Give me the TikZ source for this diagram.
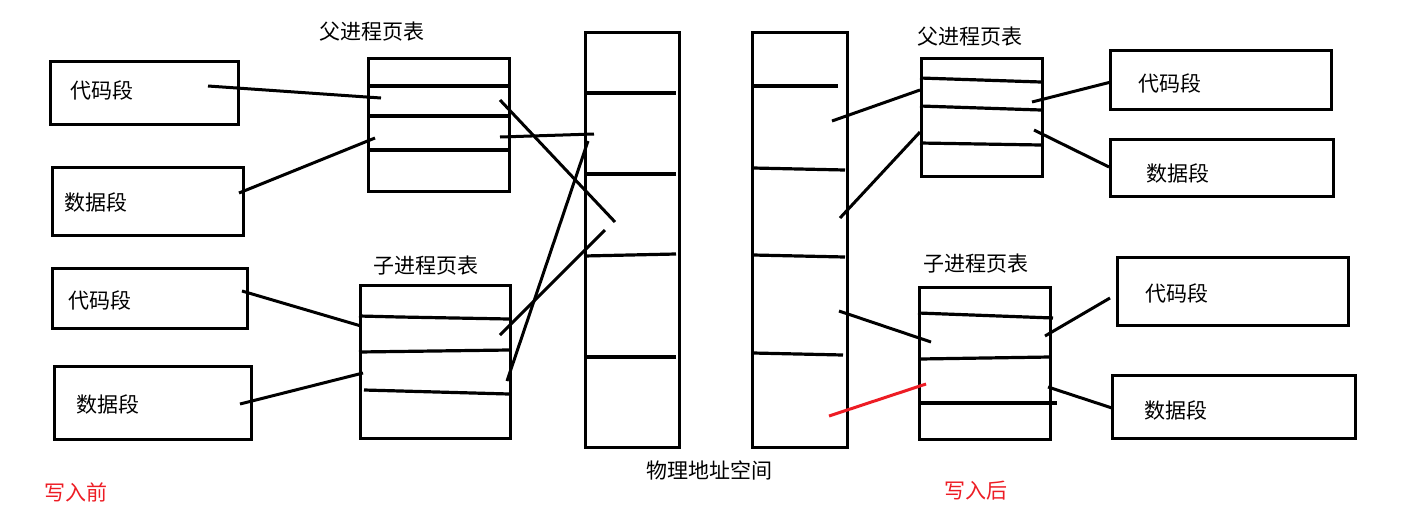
\documentclass[tikz,border=0pt]{standalone}
\usepackage{fontspec}
\setmainfont{Noto Sans CJK SC}
\definecolor{paintred}{RGB}{237,28,36}
\begin{document}
\begin{tikzpicture}[x=1pt,y=-1pt,
  box/.style={draw,line width=3.2pt,inner sep=0pt,anchor=north west},
  lbl/.style={font=\fontsize{21}{24}\selectfont,inner sep=0pt},
  red lbl/.style={lbl,text=paintred},
  conn/.style={line width=3pt},
  div/.style={line width=3.2pt}]
\useasboundingbox (0,0) rectangle (1425,515);
% helper: box from (x1,y1) size w x h
\newcommand{\mybox}[5]{\node[box,minimum width=#4,minimum height=#5] (#1) at (#2,#3) {};}
% ---------- left side ----------
\mybox{lc1}{49}{60}{188}{63}
\node[lbl] (lc1t) at (102,90) {代码段};
\mybox{ld1}{51}{166}{191}{68}
\node[lbl] (ld1t) at (96,202) {数据段};
\mybox{lc2}{51}{267}{195}{60}
\node[lbl] (lc2t) at (100,300) {代码段};
\mybox{ld2}{53}{365}{197}{73}
\node[lbl] (ld2t) at (108,404) {数据段};

\node[lbl] (lpt) at (372,32) {父进程页表};
\mybox{lp}{367}{57}{141}{133}
\draw[div] (367,86) -- (509,86);
\draw[div] (367,116) -- (509,116);
\draw[div] (367,150) -- (509,150);

\node[lbl] (lct) at (426,266) {子进程页表};
\mybox{lcpt}{359}{284}{150}{153}
\draw[div] (359,316) -- (400,317) -- (509,319);
\draw[div] (359,352) -- (509,350);
\draw[div] (364,390) -- (509,394);

% physical memory left
\mybox{pm1}{584}{31}{94}{415}
\draw[div] (584,93) -- (676,93);
\draw[div] (584,174) -- (676,174);
\draw[div] (584,256) -- (676,254);
\draw[div] (586,357) -- (676,357);

% physical memory right
\mybox{pm2}{751}{31}{95}{415}
\draw[div] (753,86) -- (838,86);
\draw[div] (753,168) -- (845,170);
\draw[div] (753,255) -- (845,257);
\draw[div] (753,353) -- (843,355);

\node[lbl] (phys) at (709,470) {物理地址空间};
\node[red lbl] (before) at (76,492) {写入前};
\node[red lbl] (after) at (976,491) {写入后};

% ---------- right side ----------
\node[lbl] (rpt) at (970,37) {父进程页表};
\mybox{rp}{920}{57}{121}{118}
\draw[div] (920,78) -- (1041,82);
\draw[div] (920,106) -- (1041,110);
\draw[div] (920,143) -- (1041,145);

\mybox{rc1}{1109}{49}{221}{59}
\node[lbl] (rc1t) at (1170,83) {代码段};
\mybox{rd1}{1109}{138}{223}{57}
\node[lbl] (rd1t) at (1178,173) {数据段};

\node[lbl] (rct) at (976,264) {子进程页表};
\mybox{rcpt}{918}{286}{131}{152}
\draw[div] (918,313) -- (1053,318);
\draw[div] (920,359) -- (1050,357);
\draw[div] (918,403) -- (1057,403);

\mybox{rc2}{1116}{256}{231}{68}
\node[lbl] (rc2t) at (1177,293) {代码段};
\mybox{rd2}{1111}{374}{243}{63}
\node[lbl] (rd2t) at (1176,410) {数据段};

% ---------- connector endpoints ----------
\coordinate (a1) at (208,86);   \coordinate (a2) at (381,98);
\coordinate (b1) at (239,193);  \coordinate (b2) at (375,138);
\coordinate (c1) at (500,100);  \coordinate (c2) at (615,222);
\coordinate (d1) at (500,137);  \coordinate (d2) at (594,134);
\coordinate (e1) at (242,291);  \coordinate (e2) at (361,326);
\coordinate (f1) at (240,404);  \coordinate (f2) at (363,373);
\coordinate (g1) at (500,335);  \coordinate (g2) at (605,230);
\coordinate (h1) at (507,381);  \coordinate (h2) at (588,141);

\coordinate (i1) at (832,121);  \coordinate (i2) at (920,90);
\coordinate (j1) at (840,218);  \coordinate (j2) at (920,132);
\coordinate (k1) at (1032,102); \coordinate (k2) at (1111,82);
\coordinate (l1) at (1034,130); \coordinate (l2) at (1109,167);
\coordinate (m1) at (839,311);  \coordinate (m2) at (931,342);
\coordinate (n1) at (829,416);  \coordinate (n2) at (926,384);
\coordinate (o1) at (1045,336); \coordinate (o2) at (1110,298);
\coordinate (p1) at (1048,387); \coordinate (p2) at (1112,408);

\foreach \s in {a,b,c,d,e,f,g,h,i,j,k,l,m,o,p}
  \draw[conn] (\s1) -- (\s2);
\draw[conn,paintred] (n1) -- (n2);
\end{tikzpicture}
\end{document}
